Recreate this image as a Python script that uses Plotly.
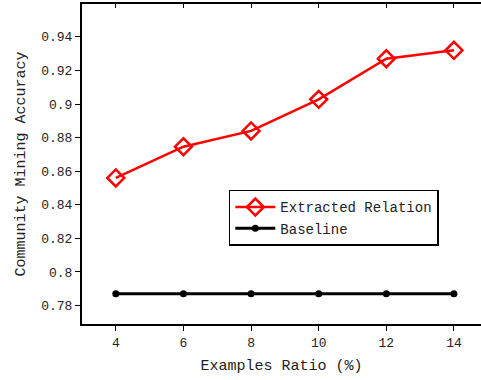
import plotly.graph_objects as go

ratios = [4, 6, 8, 10, 12, 14]
extracted = [0.856, 0.8746, 0.884, 0.9028, 0.927, 0.932]
baseline = [0.787, 0.787, 0.787, 0.787, 0.787, 0.787]

font_family = "Liberation Mono, DejaVu Sans Mono, monospace"

fig = go.Figure()
fig.add_trace(go.Scatter(
    x=ratios, y=extracted, name="Extracted Relation", mode="lines+markers",
    line=dict(color="#ff0000", width=2.5),
    marker=dict(symbol="diamond-open", size=13, color="#ff0000", line=dict(width=2.5, color="#ff0000")),
))
fig.add_trace(go.Scatter(
    x=ratios, y=baseline, name="Baseline", mode="lines+markers",
    line=dict(color="#000000", width=3),
    marker=dict(symbol="circle", size=7, color="#000000"),
))
# invisible trace on top axis for mirrored inside ticks
fig.add_trace(go.Scatter(x=ratios, y=baseline, xaxis="x2", mode="markers",
                         marker=dict(opacity=0), showlegend=False, hoverinfo="skip"))

fig.update_layout(
    width=481, height=380,
    margin=dict(l=82, r=0, t=4, b=56, autoexpand=False),
    paper_bgcolor="white", plot_bgcolor="white",
    font=dict(family=font_family, size=13, color="#222222"),
    showlegend=True,
    legend=dict(x=0.368, y=0.419, xanchor="left", yanchor="top",
                bgcolor="white", bordercolor="black", borderwidth=1.5,
                font=dict(family=font_family, size=14, color="#222222"),
                tracegroupgap=0, itemwidth=40),
    xaxis=dict(range=[3, 14.8], tickvals=ratios, showgrid=False, zeroline=False,
               showline=True, linecolor="black", linewidth=2, automargin=False,
               ticks="outside", ticklen=5, tickcolor="black",
               title=dict(text="Examples Ratio (%)", font=dict(size=15), standoff=10)),
    xaxis2=dict(overlaying="x", matches="x", side="top", tickvals=ratios, automargin=False,
                showticklabels=False, ticks="inside", ticklen=4, tickcolor="black",
                showline=True, linecolor="black", linewidth=2, showgrid=False, zeroline=False),
    yaxis=dict(range=[0.769, 0.9596], tick0=0.78, dtick=0.02, showgrid=False, zeroline=False,
               showline=True, linecolor="black", linewidth=2, automargin=False,
               ticks="outside", ticklen=5, tickcolor="black",
               title=dict(text="Community Mining Accuracy", font=dict(size=15), standoff=12)),
)

fig.write_html("out.html", config={"displayModeBar": False},
               post_script="document.body.style.margin='0';document.body.style.overflow='hidden';")
